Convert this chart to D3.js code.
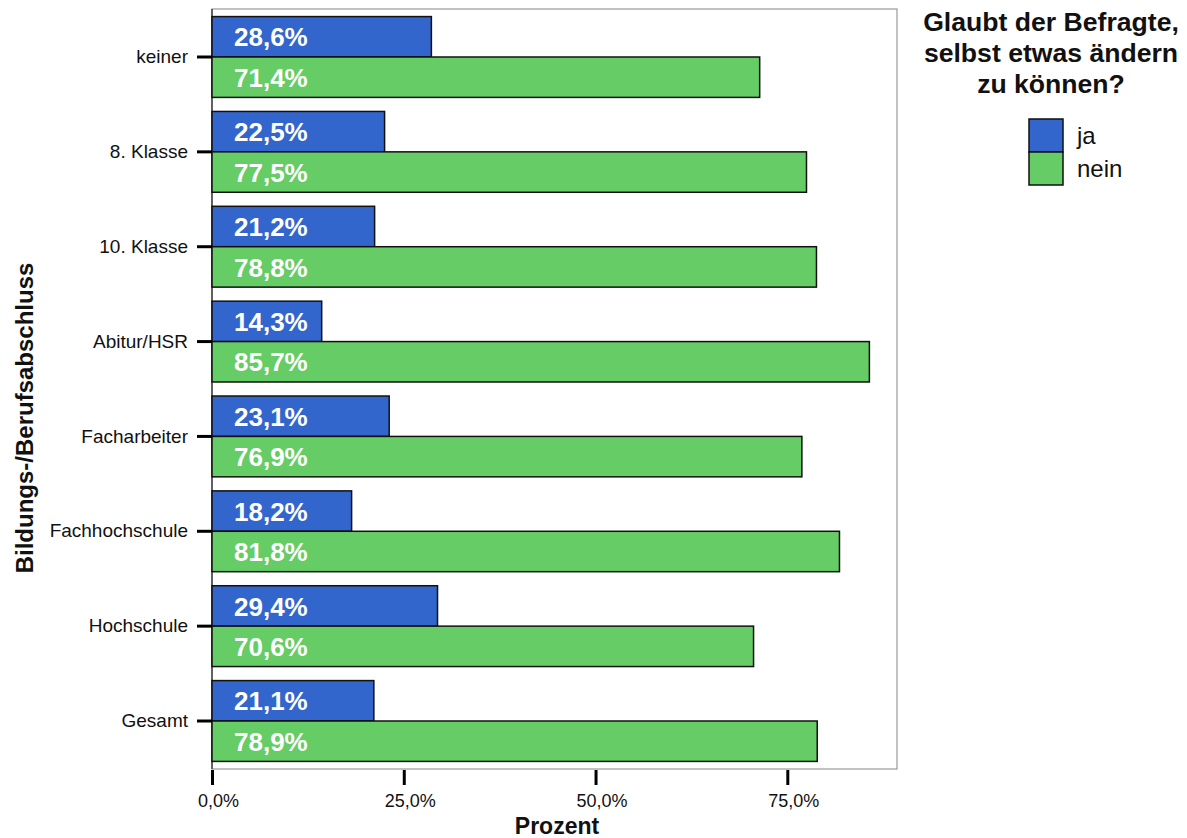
<!DOCTYPE html>
<html>
<head>
<meta charset="utf-8">
<script src="https://cdn.jsdelivr.net/npm/d3@7/dist/d3.min.js"></script>
<style>
  html, body { margin: 0; padding: 0; background: #fff; }
  svg { display: block; }
</style>
</head>
<body>
<svg id="chart" width="1187" height="838"></svg>
<script>
// Bildungsabschluss categories and answer shares (%)
const categories = ["keiner", "8. Klasse", "10. Klasse", "Abitur/HSR", "Facharbeiter", "Fachhochschule", "Hochschule", "Gesamt"];
const series = ["ja", "nein"];
const jaValues = [28.6, 22.5, 21.2, 14.3, 23.1, 18.2, 29.4, 21.1];
const neinValues = [71.4, 77.5, 78.8, 85.7, 76.9, 81.8, 70.6, 78.9];
const xTicks = [0, 25, 50, 75];
const colors = { ja: "#3366CC", nein: "#66CC66" };

const FONT = "Liberation Sans, Arial, Helvetica, sans-serif";
const svg = d3.select("#chart");
const plot = { left: 212, right: 897, top: 9, bottom: 769 };

const x = d3.scaleLinear().domain([0, 89.3]).range([plot.left, plot.right]);
const y = d3.scaleBand().domain(categories).range([plot.top, plot.bottom]).paddingInner(0.148).paddingOuter(0.08);
const ySub = d3.scaleBand().domain(series).range([0, y.bandwidth()]);

const fmt = v => v.toFixed(1).replace(".", ",") + "%";

// plot frame
svg.append("rect")
  .attr("x", plot.left).attr("y", plot.top)
  .attr("width", plot.right - plot.left).attr("height", plot.bottom - plot.top)
  .attr("fill", "#fff").attr("stroke", "#999").attr("stroke-width", 1.2);
svg.append("line")
  .attr("x1", plot.left).attr("x2", plot.left)
  .attr("y1", plot.top).attr("y2", plot.bottom)
  .attr("stroke", "#222").attr("stroke-width", 1.2);

const rows = categories.map((c, i) => ({ cat: c, ja: jaValues[i], nein: neinValues[i] }));

const groups = svg.append("g").selectAll("g").data(rows).join("g")
  .attr("transform", d => `translate(0,${y(d.cat)})`);

groups.selectAll("rect").data(d => series.map(s => ({ s, v: d[s] }))).join("rect")
  .attr("x", x(0))
  .attr("y", d => ySub(d.s))
  .attr("width", d => x(d.v) - x(0))
  .attr("height", ySub.bandwidth())
  .attr("fill", d => colors[d.s])
  .attr("stroke", "#111").attr("stroke-width", 1.5);

groups.selectAll("text").data(d => series.map(s => ({ s, v: d[s] }))).join("text")
  .attr("x", x(0) + 22)
  .attr("y", d => ySub(d.s) + ySub.bandwidth() / 2)
  .attr("dy", "0.37em")
  .attr("fill", "#fff")
  .attr("font-family", FONT)
  .attr("font-weight", "bold")
  .attr("font-size", 26)
  .text(d => fmt(d.v));

// y axis
const yAxis = svg.append("g")
  .attr("transform", `translate(${plot.left},0)`)
  .call(d3.axisLeft(y).tickSize(15).tickPadding(9));
yAxis.select(".domain").remove();
yAxis.selectAll(".tick line").attr("stroke", "#000").attr("stroke-width", 3);
yAxis.selectAll(".tick text")
  .attr("font-family", FONT)
  .attr("font-size", 19).attr("fill", "#111");

// x axis
const xAxis = svg.append("g")
  .attr("transform", `translate(0,${plot.bottom + 1})`)
  .call(d3.axisBottom(x).tickValues(xTicks).tickSize(15).tickPadding(9).tickFormat(fmt));
xAxis.select(".domain").remove();
xAxis.selectAll(".tick line").attr("stroke", "#000").attr("stroke-width", 3);
xAxis.selectAll(".tick text")
  .attr("font-family", FONT)
  .attr("font-size", 18).attr("fill", "#111")
  .attr("dx", 6);

// axis titles
svg.append("text")
  .attr("x", 557).attr("y", 834)
  .attr("text-anchor", "middle")
  .attr("font-family", FONT)
  .attr("font-weight", "bold").attr("font-size", 23)
  .attr("fill", "#111")
  .text("Prozent");

svg.append("text")
  .attr("transform", "translate(33,418) rotate(-90)")
  .attr("text-anchor", "middle")
  .attr("font-family", FONT)
  .attr("font-weight", "bold").attr("font-size", 24)
  .attr("fill", "#111")
  .text("Bildungs-/Berufsabschluss");

// legend
const legendTitle = ["Glaubt der Befragte,", "selbst etwas ändern", "zu können?"];
svg.append("g").selectAll("text").data(legendTitle).join("text")
  .attr("x", 1051)
  .attr("y", (d, i) => 31 + i * 31)
  .attr("text-anchor", "middle")
  .attr("font-family", FONT)
  .attr("font-weight", "bold").attr("font-size", 26.6)
  .attr("fill", "#111")
  .text(d => d);

const legend = svg.append("g").selectAll("g").data(series).join("g")
  .attr("transform", (d, i) => `translate(1029,${119 + i * 33})`);
legend.append("rect")
  .attr("width", 34).attr("height", 33)
  .attr("fill", d => colors[d])
  .attr("stroke", "#111").attr("stroke-width", 1.5);
legend.append("text")
  .attr("x", 48).attr("y", 17).attr("dy", "0.35em")
  .attr("font-family", FONT)
  .attr("font-size", 24).attr("fill", "#111")
  .text(d => d);
</script>
</body>
</html>
